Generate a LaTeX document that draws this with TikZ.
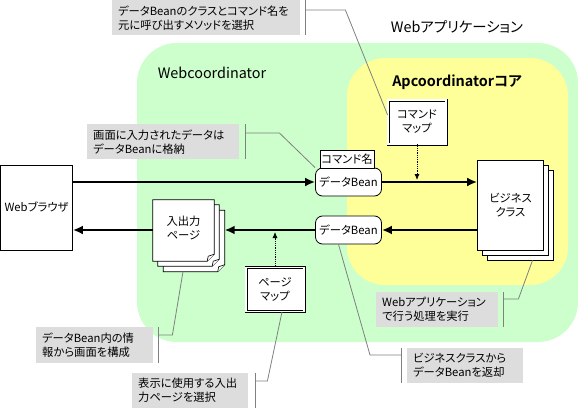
\documentclass[tikz,border=0pt]{standalone}
\usepackage{fontspec}
\setmainfont{Noto Sans CJK JP}[RawFeature=+palt,BoldFont={Noto Sans CJK JP Bold}]
\usetikzlibrary{arrows.meta,positioning}
\definecolor{webgreen}{RGB}{204,255,204}
\definecolor{coreyellow}{RGB}{255,255,153}
\definecolor{notegray}{RGB}{221,221,221}
\definecolor{linegray}{RGB}{128,128,128}
\tikzset{
  flow/.style={line width=2.6pt,-{Latex[length=10pt,width=9pt]}},
  mapflow/.style={line width=0.8pt,densely dotted,-{Latex[length=6pt,width=5pt]}},
  box/.style={draw,fill=white,line width=0.8pt,align=center,inner sep=1pt},
  bean/.style={box,rounded corners=7pt,minimum width=66pt,minimum height=28pt},
  mapbox/.style={box,double,double distance=1.4pt,minimum width=58pt,minimum height=44pt},
  sheet/.style={minimum width=61pt,minimum height=61pt,inner sep=0pt},
  note/.style={fill=notegray,align=left,anchor=north west,inner xsep=6pt,inner ysep=3pt,minimum height=35pt},
  noteline/.style={linegray,line width=0.8pt},
  title/.style={font=\fontsize{14.4}{16}\selectfont},
}
% page with a folded corner, drawn round an empty node
\newcommand{\pagesheet}[1]{%
  \draw[fill=white,line width=0.8pt] (#1.north west) -- (#1.north east) -- ([yshift=7pt]#1.south east)
    -- ([xshift=-7pt]#1.south east) -- (#1.south west) -- cycle;
  \draw[fill=white,line width=0.6pt] ([yshift=7pt]#1.south east) -- ([xshift=-6pt,yshift=5pt]#1.south east)
    -- ([xshift=-7pt]#1.south east);
}
\begin{document}
\begin{tikzpicture}[x=1pt,y=-1pt,font=\fontsize{11.3}{14}\selectfont]
\useasboundingbox (0,0) rectangle (580,412);
% areas
\fill[webgreen,rounded corners=40pt] (137,43) rectangle (578,342);
\fill[coreyellow,rounded corners=38pt] (347,58) rectangle (568,285);
\node[title] (apptitle) at (457,27) {Webアプリケーション};
\node[title] (wctitle) at (212,73) {Webcoordinator};
\node[title,font=\fontsize{14.4}{16}\selectfont\bfseries] (coretitle) at (457,82) {Apcoordinatorコア};

% boxes
\node[box,minimum width=72pt,minimum height=85pt] (browser) at (36.5,207.5) {Webブラウザ};
\node[bean] (beanin) at (348.5,182) {データBean};
\node[box,minimum width=54pt,minimum height=18pt] (cmdname) at (347,159) {コマンド名};
\node[bean] (beanout) at (348.5,230) {データBean};
\node[mapbox] (cmdmap) at (417,122) {コマンド\\マップ};
\node[mapbox] (pagemap) at (275,289.5) {ページ\\マップ};
\node[box,minimum width=66pt,minimum height=90pt] (biz3) at (520.5,215) {};
\node[box,minimum width=66pt,minimum height=90pt] (biz2) at (515.5,210) {};
\node[box,minimum width=66pt,minimum height=90pt] (biz) at (510.5,205) {ビジネス\\クラス};
\node[sheet] (iopage3) at (194,241) {};
\pagesheet{iopage3}
\node[sheet] (iopage2) at (188.5,235.5) {};
\pagesheet{iopage2}
\node[sheet] (iopage) at (183.5,230.5) {};
\pagesheet{iopage}
\node[align=center] (iotext) at (183.5,228) {入出力\\ページ};

% flows
\draw[flow] (browser.east |- beanin) -- (beanin.west);
\draw[flow] (beanin.east) -- (beanin -| biz.west);
\draw[flow] (beanout -| biz.west) -- (beanout.east);
\draw[flow] (beanout.west) -- (beanout -| iopage3.east);
\draw[flow] (iopage.west |- beanout) -- (browser.east |- beanout);
\coordinate (cmdhit) at (cmdmap.south |- beanin);
\coordinate (pagehit) at (pagemap.north |- beanout);
\draw[mapflow] (cmdmap.south) -- ([yshift=2pt]cmdhit);
\draw[mapflow] (pagemap.north) -- ([yshift=-2pt]pagehit);

% notes
\node[note,text width=176pt] (cmdnote) at (112,0) {データBeanのクラスとコマンド名を\\元に呼び出すメソッドを選択};
\node[note,text width=140pt] (datanote) at (87,124) {画面に入力されたデータは\\データBeanに格納};
\node[note,text width=105pt,minimum height=36pt] (viewnote) at (36,327) {データBean内の情\\報から画面を構成};
\node[note,text width=104pt] (pagenote) at (132,373) {表示に使用する入出\\力ページを選択};
\node[note,text width=110pt] (appnote) at (376,292) {Webアプリケーション\\で行う処理を実行};
\node[note,text width=104pt] (beannote) at (407,348) {ビジネスクラスから\\データBeanを返却};

\draw[noteline] ([xshift=5pt]cmdnote.north east) -- ([xshift=5pt]cmdnote.south east);
\draw[noteline] ([xshift=5pt,yshift=-10pt]cmdnote.north east) -- ++(40,0) -- ([yshift=7pt]cmdmap.west);
\draw[noteline] ([xshift=6pt]datanote.north east) -- ([xshift=6pt]datanote.south east);
\draw[noteline] ([xshift=6pt,yshift=-9pt]datanote.north east) -- ++(34,0) -- (beanin.north west);
\draw[noteline] ([xshift=5pt]viewnote.north east) -- ([xshift=5pt]viewnote.south east);
\draw[noteline] ([xshift=5pt,yshift=-8pt]viewnote.north east) -- ++(14,0) -- ([xshift=-11pt]iopage3.south);
\draw[noteline] ([xshift=7pt]pagenote.north east) -- ([xshift=7pt]pagenote.south east);
\draw[noteline] ([xshift=7pt,yshift=-8pt]pagenote.north east) -- ++(12,0) -- ([xshift=7pt]pagemap.south);
\draw[noteline] ([xshift=5pt]appnote.north east) -- ([xshift=5pt]appnote.south east);
\draw[noteline] ([xshift=5pt,yshift=-7pt]appnote.north east) -- ++(15,0) -- ([xshift=12pt]biz3.south);
\draw[noteline] ([xshift=-6pt]beannote.north west) -- ([xshift=-6pt]beannote.south west);
\draw[noteline] ([xshift=-6pt,yshift=-7pt]beannote.north west) -- ++(-31,0) -- ([xshift=-10pt]beanout.south);
\end{tikzpicture}
\end{document}
